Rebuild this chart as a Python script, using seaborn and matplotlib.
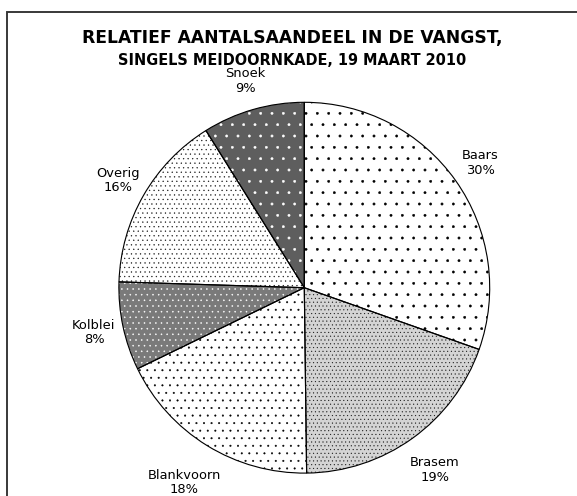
import numpy as np
import matplotlib
matplotlib.use("Agg")
import matplotlib.pyplot as plt
import seaborn as sns
from matplotlib.patches import Rectangle

# data (percent of catch)
species = ["Baars", "Brasem", "Blankvoorn", "Kolblei", "Overig", "Snoek"]
share = [30.4, 19.4, 18.0, 7.7, 15.6, 8.9]

title_1 = "RELATIEF AANTALSAANDEEL IN DE VANGST,"
title_2 = "SINGELS MEIDOORNKADE, 19 MAART 2010"

# fill styles per slice
fills = ["white", "#d4d4d4", "white", "#7a7a7a", "white", "#5e5e5e"]
hatches = ["..", "......", "...", "....", ".....", ".."]
hatch_cols = ["black", "#202020", "black", "white", "#202020", "white"]
label_dist = [1.165, 1.21, 1.235, 1.16, 1.16, 1.16]

DPI = 136
W, H = 577, 496

sns.set_style("white")
plt.rcParams["font.family"] = ["DejaVu Sans"]
plt.rcParams["text.color"] = "black"
plt.rcParams["hatch.linewidth"] = 0.25

fig = plt.figure(figsize=(W / DPI, H / DPI), dpi=DPI)

# pie axes: centre (304, 288) px, radius 185 px
cx, cy, r = 304.3, 287.7, 185.4
ax = fig.add_axes([(cx - r) / W, (H - cy - r) / H, 2 * r / W, 2 * r / H])

wedges, _ = ax.pie(share, startangle=90, counterclock=False,
                   wedgeprops=dict(linewidth=0))
for w, fc, h, hc in zip(wedges, fills, hatches, hatch_cols):
    w.set_facecolor(fc)
    w.set_edgecolor(hc)
    w.set_hatch(h)
    w.set_linewidth(0)

# outlines on top
ax.pie(share, startangle=90, counterclock=False,
       wedgeprops=dict(fill=False, edgecolor="black", linewidth=0.6))

for w, name, v, d in zip(wedges, species, share, label_dist):
    ang = np.deg2rad((w.theta1 + w.theta2) / 2)
    ax.text(d * np.cos(ang), d * np.sin(ang), f"{name}\n{v:.0f}%",
            ha="center", va="center", multialignment="center",
            fontsize=6.9, color="black", linespacing=1.15)

ax.set_xlim(-1, 1)
ax.set_ylim(-1, 1)
ax.set_aspect("equal")
ax.axis("off")

fig.text(292 / W, 1 - 43 / H, title_1, ha="center", va="baseline",
         fontsize=9.1, fontweight="bold", color="black")
fig.text(292 / W, 1 - 65 / H, title_2, ha="center", va="baseline",
         fontsize=7.7, fontweight="bold", color="black")

# chart frame (runs off the right and bottom edge)
fig.patches.append(Rectangle((6.5 / W, -0.05), 1.0, 1 - 12.5 / H + 0.05,
                             transform=fig.transFigure, fill=False,
                             edgecolor="#333333", linewidth=1.0))

fig.savefig("out.png", dpi=DPI)
